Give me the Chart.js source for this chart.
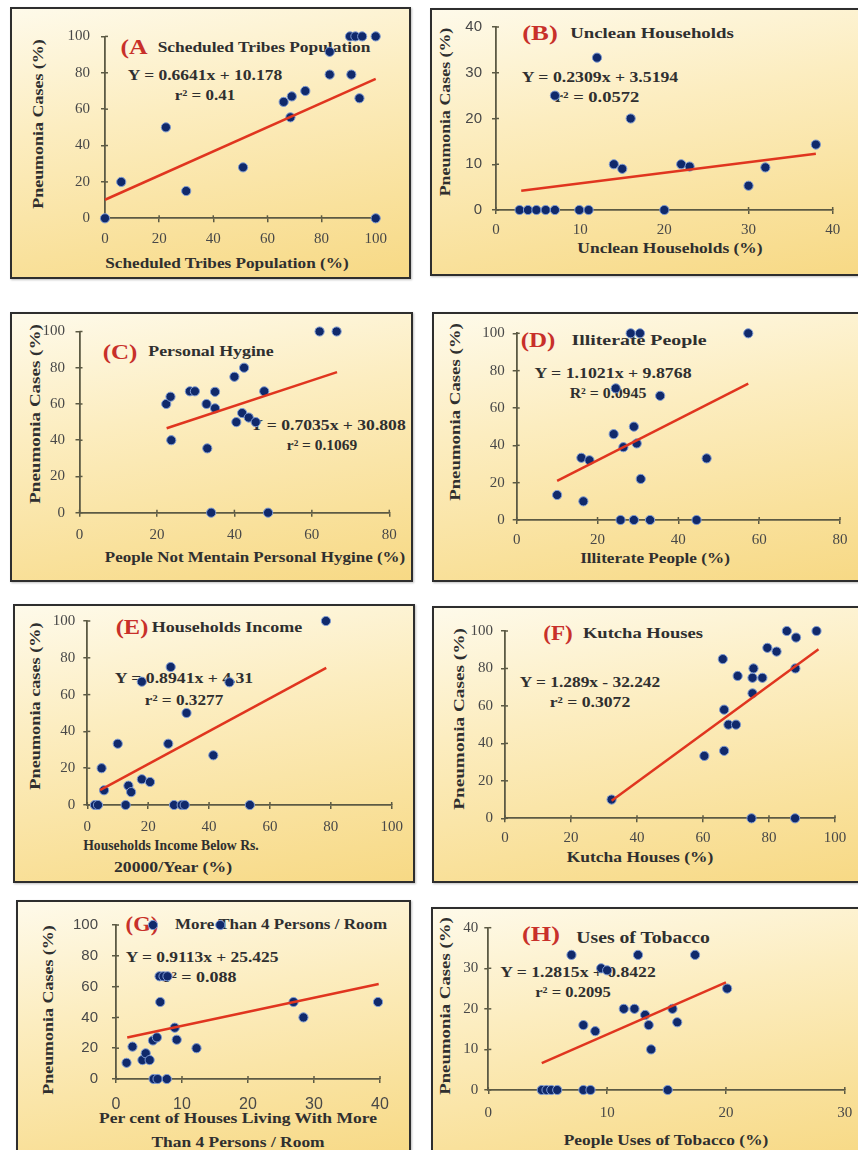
<!DOCTYPE html>
<html><head><meta charset="utf-8">
<script src="https://cdn.jsdelivr.net/npm/chart.js@4.4.1/dist/chart.umd.min.js"></script>
<style>
html,body{margin:0;padding:0;background:#fff;overflow:hidden;}
#stage{position:relative;width:858px;height:1150px;overflow:hidden;background:#fff;}
.box{position:absolute;box-sizing:border-box;border:2.5px solid #2e2e2e;background:linear-gradient(170deg,#fefaea 0%,#fcedc0 38%,#f9e19c 75%,#f7d985 100%);box-shadow:1px 1px 2px rgba(0,0,0,0.25);}
.txt{position:absolute;white-space:nowrap;font-family:'Liberation Serif','Times New Roman',serif;font-weight:bold;color:#2f2f2f;line-height:1;transform-origin:center center;}
canvas{position:absolute;}
</style></head><body><div id="stage"></div>
<script>
// ---------- DATA ----------
const A_x = [0, 6, 22.5, 30, 51, 66, 68.5, 69, 74, 83, 83, 91, 90.5, 92.5, 95, 100, 94, 100];
const A_y = [0, 20, 50, 15, 28, 64, 55.5, 67, 70, 91.5, 79, 79, 100, 100, 100, 100, 66, 0];
const A_trendX = [0, 100], A_trendY = [10.2, 76.6];
const A_xTicks = [0, 20, 40, 60, 80, 100], A_yTicks = [0, 20, 40, 60, 80, 100];

const B_x = [2.8, 3.8, 4.8, 5.9, 7, 9.9, 11, 20, 7, 12, 16, 14, 15, 22, 23, 30, 32, 38];
const B_y = [0, 0, 0, 0, 0, 0, 0, 0, 25, 33.3, 20, 10, 9, 10, 9.5, 5.3, 9.3, 14.3];
const B_trendX = [3, 38], B_trendY = [4.2, 12.3];
const B_xTicks = [0, 10, 20, 30, 40], B_yTicks = [0, 10, 20, 30, 40];

const C_x = [22.4, 23.5, 23.7, 28.5, 29.8, 32.8, 33, 35, 35, 34, 40, 42.5, 40.5, 42, 43.7, 45.5, 47.7, 48.7, 62, 66.4];
const C_y = [60, 64, 40, 67, 67, 60, 35.5, 66.7, 57.6, 0, 75, 80, 50, 55, 52.5, 50, 67, 0, 100, 100];
const C_trendX = [22.5, 66.5], C_trendY = [46.6, 77.6];
const C_xTicks = [0, 20, 40, 60, 80], C_yTicks = [0, 20, 40, 60, 80, 100];

const D_x = [10, 16.5, 16, 18, 24, 24.5, 25.7, 26.4, 29, 29, 29.7, 30.7, 28.2, 30.5, 33, 35.5, 44.5, 47, 57.3];
const D_y = [13.4, 10, 33.3, 32, 46, 70.5, 0, 39, 0, 50, 41, 22, 100, 100, 0, 66.5, 0, 33, 100];
const D_trendX = [10, 57.3], D_trendY = [20.9, 73.0];
const D_xTicks = [0, 20, 40, 60, 80], D_yTicks = [0, 20, 40, 60, 80, 100];

const E_x = [2.5, 3.5, 4.7, 5.5, 10, 12.6, 13.5, 14.4, 17.9, 20.6, 17.9, 27.4, 26.6, 28.5, 31, 32, 32.6, 41.4, 46.7, 53.4, 78.4];
const E_y = [0, 0, 20, 8, 33.3, 0, 10.5, 7, 14, 12.5, 67, 75, 33.3, 0, 0, 0, 50, 27, 66.7, 0, 100];
const E_trendX = [4.2, 78.5], E_trendY = [8.1, 74.5];
const E_xTicks = [0, 20, 40, 60, 80, 100], E_yTicks = [0, 20, 40, 60, 80, 100];

const F_x = [32.3, 60.4, 66.4, 66, 66.4, 67.7, 70, 70.5, 75, 75.3, 75, 78, 74.7, 79.5, 82.3, 85.4, 88.2, 88, 87.9, 94.4];
const F_y = [10, 33.3, 36, 85, 58, 50, 50, 76, 66.7, 80, 75, 75, 0, 91, 89, 100, 96.5, 80, 0, 100];
const F_trendX = [32.3, 95], F_trendY = [9.4, 90.2];
const F_xTicks = [0, 20, 40, 60, 80, 100], F_yTicks = [0, 20, 40, 60, 80, 100];

const G_x = [1.6, 2.5, 4, 4.5, 5.1, 5.6, 6.2, 5.7, 6.3, 7.7, 6.7, 6.6, 7.2, 7.8, 5.6, 15.8, 8.9, 9.2, 12.2, 26.9, 28.4, 39.7];
const G_y = [10.5, 21, 12.3, 16.7, 12.3, 25, 27, 0, 0, 0, 50, 66.7, 66.7, 66.7, 100, 100, 33.3, 25.5, 20, 50, 40, 50];
const G_trendX = [1.7, 39.8], G_trendY = [27.0, 61.7];
const G_xTicks = [0, 10, 20, 30, 40], G_yTicks = [0, 20, 40, 60, 80, 100];

const H_x = [4.5, 4.9, 5.3, 5.8, 8, 8.6, 15.1, 7, 9.5, 10, 8, 9, 11.4, 12.3, 12.6, 13.2, 13.5, 13.7, 15.5, 15.9, 17.4, 20.1];
const H_y = [0, 0, 0, 0, 0, 0, 0, 33.3, 30, 29.5, 16, 14.5, 20, 20, 33.3, 18.5, 16, 10, 20, 16.7, 33.3, 25];
const H_trendX = [4.5, 20], H_trendY = [6.6, 26.5];
const H_xTicks = [0, 10, 20, 30], H_yTicks = [0, 10, 20, 30, 40];

// ---------- LAYOUT / STYLE ----------
const RED = '#c8302a';
const AX = '#5c5a44';
const SERIF = "'Liberation Serif','Times New Roman',serif";
const SANS = "'Liberation Sans',Arial,sans-serif";
const stage = document.getElementById('stage');

function addText(spec){
  const [t, cx, cy, w, size, color, rot] = spec;
  const el = document.createElement('div');
  el.className = 'txt';
  el.textContent = t;
  el.style.fontSize = size + 'px';
  if (color) el.style.color = color;
  el.style.left = cx + 'px';
  el.style.top = cy + 'px';
  stage.appendChild(el);
  const mw = el.offsetWidth;
  let s = w / mw; s = Math.max(0.7, Math.min(1.5, s));
  el.style.transform = 'translate(-50%,-50%)' + (rot ? ' rotate(-90deg)' : '') + ' scaleX(' + s.toFixed(3) + ')';
}

const innerTicks = {
  id: 'innerTicks',
  beforeDatasetsDraw(chart){
    const ctx = chart.ctx, a = chart.chartArea;
    ctx.save(); ctx.strokeStyle = AX; ctx.lineWidth = 1.5;
    chart.scales.x.ticks.forEach(t => { const px = chart.scales.x.getPixelForValue(t.value); ctx.beginPath(); ctx.moveTo(px, a.bottom); ctx.lineTo(px, a.bottom - 3); ctx.stroke(); });
    chart.scales.y.ticks.forEach(t => { const py = chart.scales.y.getPixelForValue(t.value); ctx.beginPath(); ctx.moveTo(a.left, py); ctx.lineTo(a.left + 3, py); ctx.stroke(); });
    ctx.restore();
  }
};

function panel(P){
  const [bx, by, bw, bh] = P.box;
  const [l, t, r, b] = P.area;
  const box = document.createElement('div');
  box.className = 'box';
  Object.assign(box.style, {left: bx + 'px', top: by + 'px', width: bw + 'px', height: bh + 'px'});
  stage.appendChild(box);
  P.texts.forEach(addText);
  const cv = document.createElement('canvas');
  cv.width = bw; cv.height = bh;
  Object.assign(cv.style, {left: bx + 'px', top: by + 'px', width: bw + 'px', height: bh + 'px'});
  stage.appendChild(cv);
  const tickFontX = {family: P.xSans ? SANS : SERIF, size: P.xSize || 15};
  const tickFontY = {family: P.ySans ? SANS : SERIF, size: P.ySize || 15};
  new Chart(cv, {
    type: 'scatter',
    data: {datasets: [
      {type: 'line', data: P.tx.map((x, i) => ({x, y: P.ty[i]})), borderColor: '#e0351f', borderWidth: 2.5, pointRadius: 0, fill: false, clip: false, tension: 0},
      {data: P.xs.map((x, i) => ({x, y: P.ys[i]})), backgroundColor: '#10296b', borderColor: '#7d9ad3', borderWidth: 1, pointRadius: 4.6, clip: false}
    ]},
    options: {
      responsive: false, animation: false, devicePixelRatio: 1, events: [],
      layout: {padding: {left: 0, top: t - by, right: bx + bw - r, bottom: 0}},
      plugins: {legend: {display: false}, tooltip: {enabled: false}},
      scales: {
        x: {type: 'linear', min: P.xt[0], max: P.xt[P.xt.length - 1],
            afterBuildTicks: s => { s.ticks = P.xt.map(v => ({value: v})); },
            afterFit: s => { s.height = by + bh - b; },
            grid: {display: true, drawOnChartArea: false, drawTicks: true, tickLength: 4, color: AX, lineWidth: 1.5},
            border: {display: true, color: AX, width: 1.8},
            ticks: {font: tickFontX, color: '#484848', padding: P.xPad, maxRotation: 0, autoSkip: false}},
        y: {type: 'linear', min: P.yt[0], max: P.yt[P.yt.length - 1],
            afterBuildTicks: s => { s.ticks = P.yt.map(v => ({value: v})); },
            afterFit: s => { s.width = l - bx; },
            grid: {display: true, drawOnChartArea: false, drawTicks: true, tickLength: 4, color: AX, lineWidth: 1.5},
            border: {display: true, color: AX, width: 1.8},
            ticks: {font: tickFontY, color: '#484848', padding: P.yPad, autoSkip: false}}
      }
    },
    plugins: [innerTicks]
  });
}

const PC = 'Pneumonia Cases (%)';
panel({box: [10, 7, 401, 272], area: [105, 36.4, 375.7, 218.3], xs: A_x, ys: A_y, tx: A_trendX, ty: A_trendY, xt: A_xTicks, yt: A_yTicks, yPad: 11, xPad: 8,
  texts: [['(A', 133.5, 47, 27, 20, RED], ['Scheduled Tribes Population', 263.5, 47, 213, 15], ['Y = 0.6641x + 10.178', 205, 75, 154, 15], ['r² = 0.41', 205, 95, 60, 15],
          ['Scheduled Tribes Population (%)', 226.5, 263, 243, 15], [PC, 38, 124, 170, 15, null, true]]});
panel({box: [430, 8, 432, 268], area: [496, 20, 832.7, 210], xs: B_x, ys: B_y, tx: B_trendX, ty: B_trendY, xt: B_xTicks, yt: B_yTicks, yPad: 10, xPad: 7, ySans: true, ySize: 15,
  texts: [['(B)', 540, 33, 36, 20, RED], ['Unclean Households', 651.5, 33, 163, 15], ['Y = 0.2309x + 3.5194', 600, 77, 156, 15], ['r² = 0.0572', 597, 97, 84, 15],
          ['Unclean Households (%)', 669.5, 248, 185, 15], [PC, 445, 112, 169, 15, null, true]]});
panel({box: [10, 312, 403, 270], area: [79.5, 324, 389.3, 512.7], xs: C_x, ys: C_y, tx: C_trendX, ty: C_trendY, xt: C_xTicks, yt: C_yTicks, yPad: 10.5, xPad: 9,
  texts: [['(C)', 119.5, 352, 35, 20, RED], ['Personal Hygine', 210.5, 351, 125, 15], ['Y = 0.7035x + 30.808', 327.5, 425, 155, 15], ['r² = 0.1069', 322, 445, 70, 15],
          ['People Not Mentain Personal Hygine (%)', 255, 556.7, 300, 15], [PC, 35, 414, 180, 15, null, true]]});
panel({box: [432, 312, 430, 270], area: [516.7, 333.3, 840, 520], xs: D_x, ys: D_y, tx: D_trendX, ty: D_trendY, xt: D_xTicks, yt: D_yTicks, yPad: 8, xPad: 7,
  texts: [['(D)', 537.5, 340, 35, 20, RED], ['Illiterate People', 639, 340, 135, 15], ['Y = 1.1021x + 9.8768', 613.3, 373.3, 156.7, 15], ['R² = 0.0945', 608, 393.3, 77, 15],
          ['Illiterate People (%)', 655, 558.3, 150, 15], [PC, 455, 412, 178, 15, null, true]]});
panel({box: [13, 604, 402, 279], area: [87.3, 614, 391.7, 805], xs: E_x, ys: E_y, tx: E_trendX, ty: E_trendY, xt: E_xTicks, yt: E_yTicks, yPad: 8, xPad: 9,
  texts: [['(E)', 131.5, 626.7, 33, 20, RED], ['Households Income', 226.7, 626.7, 150, 15], ['Y = 0.8941x + 4.31', 184, 678.3, 138, 15], ['r² = 0.3277', 184, 700, 78, 15],
          ['Households Income Below Rs.', 171, 845, 176, 15], ['20000/Year (%)', 173, 866.7, 118, 15], ['Pneumonia cases (%)', 35, 706, 168, 15, null, true]]});
panel({box: [432, 606, 430, 277], area: [505, 631, 835, 818.3], xs: F_x, ys: F_y, tx: F_trendX, ty: F_trendY, xt: F_xTicks, yt: F_yTicks, yPad: 8, xPad: 7,
  texts: [['(F)', 558.3, 632.7, 30, 20, RED], ['Kutcha Houses', 643.3, 632.7, 120, 15], ['Y = 1.289x - 32.242', 590, 681.7, 140, 15], ['r² = 0.3072', 590, 701.7, 80, 15],
          ['Kutcha Houses (%)', 640, 856.7, 146.7, 15], [PC, 459.3, 719, 182, 15, null, true]]});
panel({box: [16, 900, 395, 260], area: [116, 925, 380, 1079], xs: G_x, ys: G_y, tx: G_trendX, ty: G_trendY, xt: G_xTicks, yt: G_yTicks, yPad: 14, xPad: 12, xSans: true, ySans: true, xSize: 16, ySize: 15,
  texts: [['(G)', 141.5, 924.3, 33, 20, RED], ['More Than 4 Persons / Room', 280.8, 924.3, 211.7, 15], ['Y = 0.9113x + 25.425', 201.7, 956.7, 153.3, 15], ['r² = 0.088', 200, 976.7, 73, 15],
          ['Per cent of Houses Living With More', 237.5, 1118.3, 278, 15], ['Than 4 Persons / Room', 238.3, 1141.7, 173, 15], [PC, 48, 1010, 170, 15, null, true]]});
panel({box: [431, 907, 431, 253], area: [488.3, 927.7, 846, 1090], xs: H_x, ys: H_y, tx: H_trendX, ty: H_trendY, xt: H_xTicks, yt: H_yTicks, yPad: 6, xPad: 9.7,
  texts: [['(H)', 540.8, 934.3, 38, 20, RED], ['Uses of Tobacco', 643.3, 938.3, 133, 16], ['Y = 1.2815x + 0.8422', 577.5, 972.3, 155, 15], ['r² = 0.2095', 572.5, 991.7, 75, 15],
          ['People Uses of Tobacco (%)', 665.8, 1140, 205, 15], [PC, 445, 1006, 178, 15, null, true]]});
</script></body></html>
